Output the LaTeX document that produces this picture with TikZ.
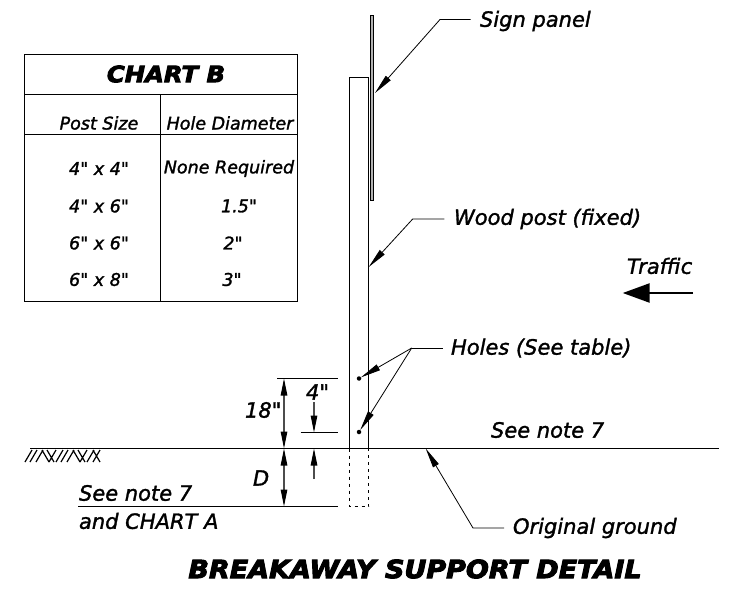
\documentclass[tikz,border=0pt]{standalone}
\usepackage{fontspec}
\setmainfont{DejaVu Sans}[Ligatures=TeXOff]
\newfontfamily\heavyfont{DejaVu Sans}[Ligatures=TeXOff,FakeBold=1.5]
\newfontfamily\titlefont{DejaVu Sans}[Ligatures=TeXOff,FakeBold=4,FakeStretch=1.08]
\usetikzlibrary{arrows.meta}
\begin{document}
\begin{tikzpicture}[x=1pt,y=-1pt,inner sep=0pt,outer sep=0pt,line width=1.1pt,
  lbl/.style={font=\fontsize{21}{21}\selectfont\heavyfont\itshape,anchor=west},
  cell/.style={font=\fontsize{17.5}{17.5}\selectfont\heavyfont\itshape},
  lead/.style={line width=0.8pt,-{Stealth[length=20pt,width=6.5pt,inset=0pt]}},
  dimen/.style={line width=1.1pt,draw=black!70,-{Stealth[length=17pt,width=6.5pt,inset=0pt,black]}},
  hatch/.style={line width=1.2pt}]
\useasboundingbox (0,0) rectangle (735,593);
% chart
\draw[line width=1.3pt] (24.5,54.5) rectangle (297.5,301.5);
\draw (24.5,94.5) -- (297.5,94.5) (24.5,134.5) -- (297.5,134.5) (160.5,94.5) -- (160.5,301.5);
\node[font=\fontsize{22.5}{22.5}\selectfont\titlefont\bfseries\itshape] (chart) at (166,74) {CHART B};
\node[cell] (size) at (99,123) {Post Size};
\node[cell] (dia) at (230,123) {Hole Diameter};
\node[cell] (s1) at (99,168.5) {4" x 4"};
\node[cell] (s2) at (99,206) {4" x 6"};
\node[cell] (s3) at (99,243) {6" x 6"};
\node[cell] (s4) at (99,279.5) {6" x 8"};
\node[cell] (d1) at (229,168.5) {None Required};
\node[cell] (d2) at (239,206) {1.5"};
\node[cell] (d3) at (233,243) {2"};
\node[cell] (d4) at (232,279.5) {3"};
% post and panel
\draw[fill=white] (368.5,448.5) coordinate(br) -- (368.5,77.5) coordinate(tr) -- (349.5,77.5) coordinate(tl) -- (349.5,448.5) coordinate(bl);
\draw[fill=gray!60,line width=0.8pt] (370.5,15) rectangle (373.7,200);
\draw[dash pattern=on 3pt off 4pt,line width=0.8pt] (bl) -- (349.5,506.5) coordinate(el) -- (368.5,506.5) coordinate(er) -- (br);
% ground
\draw (30,448.5) coordinate(g0) -- (719,448.5) coordinate(g1);
\foreach \x in {25,56}{
\draw[hatch] (\x,462) -- ++(7,-12) (\x+5,462) -- ++(7,-12) (\x+11,462) -- ++(7,-12)
(\x+24,462) -- ++(7,-12) (\x+17,450) -- ++(7,12) (\x+22,450) -- ++(7,12);}
\draw[hatch] (87,462) -- ++(7,-12) (93,450) -- ++(7,12) (93,462) -- ++(7,-12);
% dimensions
\draw (277,378.5) coordinate(a1) -- (338,378.5) coordinate(a2)
(300.5,432.5) coordinate(b1) -- (338,432.5) coordinate(b2)
(78,506.5) coordinate(c1) -- (338,506.5) coordinate(c2);
\node[lbl] (eighteen) at (245,410) {18"};
\node[lbl] (four) at (306,392) {4"};
\node[lbl] (depth) at (253,478) {D};
\coordinate (m) at (284,413);
\coordinate (n) at (284,478);
\draw[dimen] (m) -- (284,378.5);
\draw[dimen] (m) -- (284,448.5);
\draw[dimen] (n) -- (284,448.5);
\draw[dimen] (n) -- (284,506.5);
\coordinate (p) at (314,402);
\coordinate (q) at (314,479);
\draw[dimen] (p) -- (314,432.5);
\draw[dimen] (q) -- (314,448.5);
\node[lbl] (note1) at (79,493) {See note 7};
\node[lbl] (chartA) at (79,521) {and CHART A};
% holes
\node[circle,fill,minimum size=4.5pt] (h1) at (359,378.5) {};
\node[circle,fill,minimum size=4.5pt] (h2) at (359,432) {};
% leaders
\node[lbl] (panel) at (480,21) {Sign panel};
\node[lbl] (wood) at (454,219) {Wood post (fixed)};
\node[lbl] (holes) at (451,348) {Holes (See table)};
\node[lbl] (orig) at (513,528) {Original ground};
\node[lbl] (note2) at (491,430) {See note 7};
\node[lbl] (traffic) at (627,266) {Traffic};
\draw[lead] (470.7,19.5) coordinate(s0) -- (440,19.5) coordinate(s1x) -- (375,93) coordinate(s2x);
\draw[lead] (444.3,219) coordinate(w0) -- (412.7,219) coordinate(w1) -- (368.7,267) coordinate(w2);
\draw[line width=0.8pt] (442.7,348) coordinate(k0) -- (411.7,348) coordinate(k);
\draw[lead] (k) -- (h1);
\draw[lead] (k) -- (h2);
\draw[lead] (504,528) coordinate(o0) -- (473,528) coordinate(o1) -- (425.7,448.5) coordinate(o2);
\draw[line width=2.4pt,-{Stealth[length=27pt,width=19pt,inset=0pt]}] (693,293) coordinate(t0) -- (622.7,293) coordinate(t1);
\node[font=\fontsize{25}{25}\selectfont\titlefont\bfseries\itshape] (title) at (415,569) {BREAKAWAY SUPPORT DETAIL};
\end{tikzpicture}
\end{document}
